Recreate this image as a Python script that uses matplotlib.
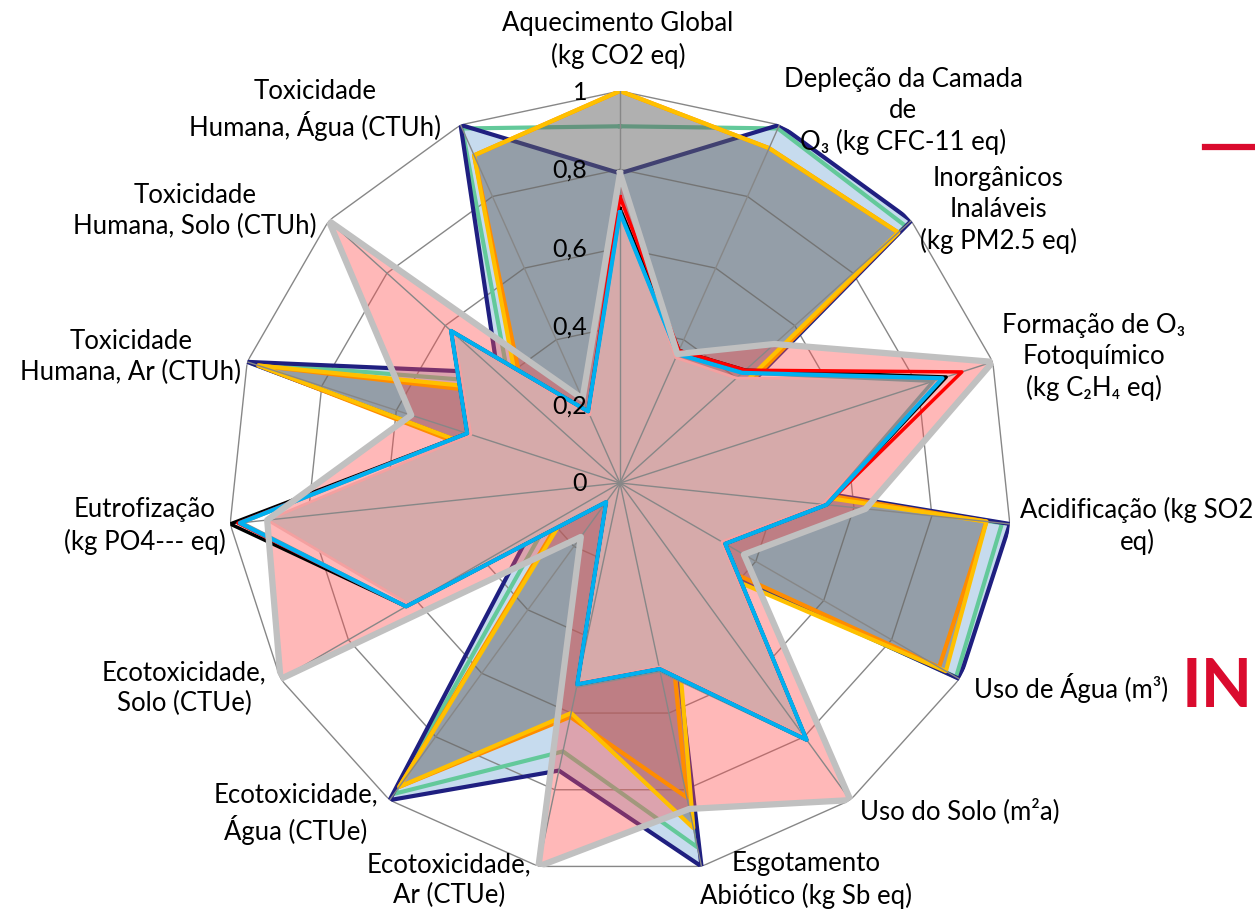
import numpy as np
import matplotlib.pyplot as plt
from matplotlib.lines import Line2D

plt.rcParams['font.family'] = ['Lato', 'DejaVu Sans']

# categorias (sentido horário a partir do topo)
categories = [
    'Aquecimento Global\n(kg CO2 eq)',
    'Depleção da Camada\nde\nO₃ (kg CFC-11 eq)',
    'Inorgânicos\nInaláveis\n(kg PM2.5 eq)',
    'Formação de O₃\nFotoquímico\n(kg C₂H₄ eq)',
    'Acidificação (kg SO2\neq)',
    'Uso de Água (m³)',
    'Uso do Solo (m²a)',
    'Esgotamento\nAbiótico (kg Sb eq)',
    'Ecotoxicidade,\nAr (CTUe)',
    'Ecotoxicidade,\nÁgua (CTUe)',
    'Ecotoxicidade,\nSolo (CTUe)',
    'Eutrofização\n(kg PO4--- eq)',
    'Toxicidade\nHumana, Ar (CTUh)',
    'Toxicidade\nHumana, Solo (CTUh)',
    'Toxicidade\nHumana, Água (CTUh)',
]
tick_values = [0, 0.2, 0.4, 0.6, 0.8, 1.0]
tick_labels = ['0', '0,2', '0,4', '0,6', '0,8', '1']

# séries normalizadas (valor máximo = 1)
navy   = [0.79, 1.00, 1.00, 0.13, 1.00, 1.00, 0.19, 1.00, 0.75, 1.00, 0.27, 0.10, 1.00, 0.42, 1.00]
mint   = [0.91, 0.99, 0.98, 0.10, 0.98, 0.99, 0.20, 0.95, 0.70, 0.98, 0.22, 0.10, 0.99, 0.38, 0.99]
orange = [1.00, 0.935, 0.955, 0.12, 0.94, 0.94, 0.18, 0.82, 0.61, 0.958, 0.17, 0.12, 0.97, 0.33, 0.915]
yellow = [1.00, 0.935, 0.955, 0.09, 0.94, 0.96, 0.22, 0.90, 0.60, 0.958, 0.16, 0.10, 0.97, 0.35, 0.915]

salmon = [0.72, 0.35, 0.40, 0.86, 0.52, 0.30, 0.80, 0.48, 0.52, 0.06, 0.62, 0.905, 0.40, 0.57, 0.19]
dgray  = [0.69, 0.36, 0.42, 0.84, 0.53, 0.31, 0.81, 0.49, 0.53, 0.06, 0.63, 0.97, 0.41, 0.58, 0.20]
black  = [0.70, 0.37, 0.43, 0.875, 0.53, 0.31, 0.81, 0.485, 0.525, 0.06, 0.63, 1.00, 0.41, 0.58, 0.20]
red    = [0.73, 0.37, 0.43, 0.917, 0.53, 0.31, 0.81, 0.485, 0.525, 0.06, 0.63, 0.98, 0.41, 0.58, 0.20]
cyan   = [0.69, 0.36, 0.42, 0.865, 0.53, 0.31, 0.81, 0.485, 0.525, 0.06, 0.63, 0.975, 0.41, 0.58, 0.20]
lgray  = [0.79, 0.36, 0.53, 1.00, 0.63, 0.365, 1.00, 0.85, 1.00, 0.17, 1.00, 0.905, 0.56, 1.00, 0.235]

W, H = 1255, 912
fig = plt.figure(figsize=(W / 100, H / 100), dpi=100)
ax = fig.add_axes([228 / W, 36 / H, 784 / W, 784 / H], projection='polar')
ax.set_theta_offset(np.pi / 2)
ax.set_theta_direction(-1)
ax.set_ylim(0, 1)
ax.set_axis_off()

n = len(categories)
theta = np.linspace(0, 2 * np.pi, n, endpoint=False)
tc = np.append(theta, theta[0])


def closed(v):
    return np.append(v, v[0])


grid_col = '#878787'
# anéis da grade (ficam por baixo das áreas)
for lvl in tick_values[1:]:
    ax.plot(tc, [lvl] * (n + 1), color=grid_col, lw=1, zorder=1.5)

# áreas e linhas
ax.fill(tc, closed(navy), color='#c6dbee', lw=0, zorder=1)
ax.plot(tc, closed(mint), color='#63c99a', lw=3, zorder=2)
ax.plot(tc, closed(navy), color='#1f1f80', lw=3, zorder=2)
ax.fill(tc, closed(yellow), color=(0.39, 0.39, 0.39, 0.5), lw=0, zorder=3)
ax.fill(tc, closed(lgray), color=(1.0, 0.31, 0.31, 0.4), lw=0, zorder=4)
ax.plot(tc, closed(orange), color='#ff8c00', lw=3, zorder=5)
ax.plot(tc, closed(yellow), color='#ffc000', lw=3, zorder=5)
ax.fill(tc, closed(salmon), color='#d6aaaa', lw=0, zorder=6)

# raios
for t in theta:
    ax.plot([t, t], [0, 1], color=grid_col, lw=1, zorder=6.5)

for vals, col, lw in [(salmon, '#f4a0a0', 2), (dgray, '#8c8c8c', 2.5), (black, '#000000', 2.5),
                      (red, '#ff0000', 2.5), (cyan, '#00b0f0', 3), (lgray, '#c0c0c0', 4.5)]:
    ax.plot(tc, closed(vals), color=col, lw=lw, zorder=8)

for v, s in zip(tick_values, tick_labels):
    ax.annotate(s, xy=(0, v), xytext=(-33, 0), textcoords='offset pixels',
                ha='right', va='center', fontsize=18, zorder=9)

# rótulos das categorias (centro do bloco em pixels)
label_pos = [(618, 40), (903, 111), (998, 210), (1094, 357), (1137, 526),
             (1071, 688), (960, 811), (806, 880), (449, 880), (296, 814),
             (184, 688), (145, 526), (131, 357), (195, 211), (315, 110)]
for lab, (x, y) in zip(categories, label_pos):
    fig.text(x / W, 1 - y / H, lab, ha='center', va='center', multialignment='center',
             fontsize=18.5, linespacing=1.3)

# restos do slide à direita
fig.add_artist(Line2D([1205 / W, 1], [1 - 148 / H, 1 - 148 / H], color='#da0b2e', lw=4.5))
fig.text(1253 / W, 1 - 688 / H, 'IN', color='#da0b2e', fontsize=48, fontweight='bold',
         family=['Liberation Sans Narrow', 'Lato'], ha='right', va='center')

fig.savefig('out.png', dpi=100)
